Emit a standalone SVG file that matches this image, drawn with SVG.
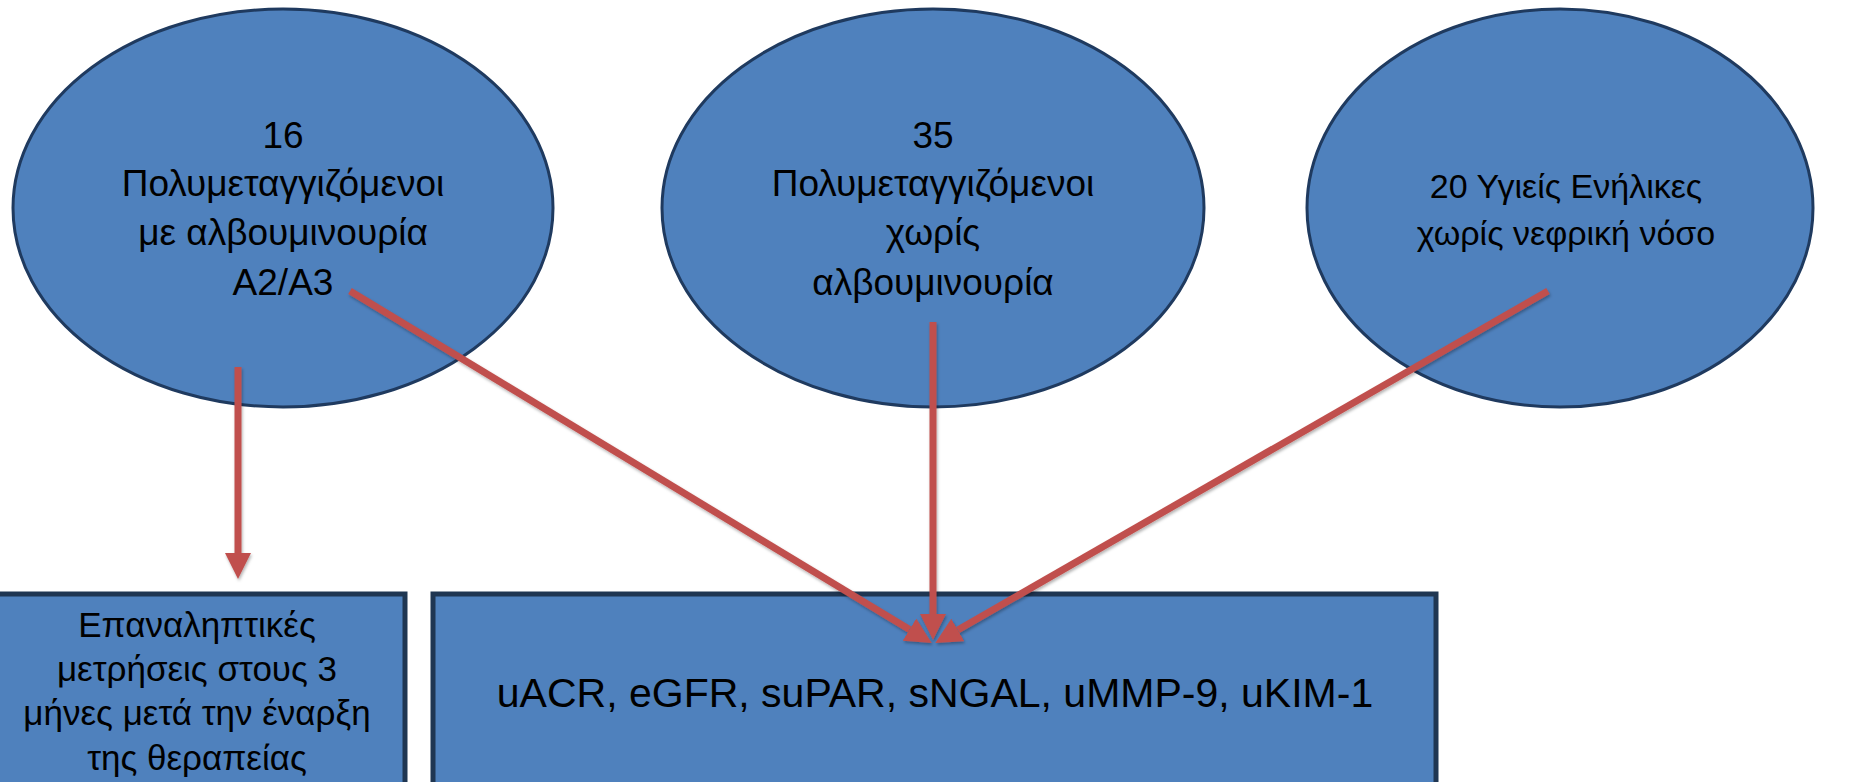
<svg xmlns="http://www.w3.org/2000/svg" width="1853" height="782" viewBox="0 0 1853 782">
<style>
.node{fill:#4F81BD;stroke:#1F3A5F;stroke-width:3}
.box{fill:#4F81BD;stroke:#1F3652;stroke-width:5}
.t{font-family:"Liberation Sans",Arial,sans-serif;font-size:37px;fill:#000;text-anchor:middle}
.t3{font-family:"Liberation Sans",Arial,sans-serif;font-size:34px;fill:#000;text-anchor:middle}
.tb{font-family:"Liberation Sans",Arial,sans-serif;font-size:35px;fill:#000;text-anchor:middle}
.tm{font-family:"Liberation Sans",Arial,sans-serif;font-size:41px;fill:#000;text-anchor:middle}
.c{stroke:#C0504D;stroke-width:7;fill:none}
</style>
<defs>
<marker id="ah" markerUnits="userSpaceOnUse" markerWidth="26" markerHeight="26" viewBox="0 0 24 24" refX="0" refY="12" orient="auto">
<path d="M0,0 L24,12 L0,24 z" fill="#C0504D"/>
</marker>
<filter id="sh" x="-10%" y="-10%" width="130%" height="130%">
<feDropShadow dx="1" dy="2" stdDeviation="1.5" flood-color="#000" flood-opacity="0.3"/>
</filter>
</defs>
<rect width="1853" height="782" fill="#fff"/>
<g id="n1">
<ellipse class="node" cx="283" cy="208" rx="270" ry="199"/>
<text class="t" x="283" y="148">16</text>
<text class="t" x="283" y="196">Πολυμεταγγιζόμενοι</text>
<text class="t" x="283" y="245">με αλβουμινουρία</text>
<text class="t" x="283" y="295">A2/A3</text>
</g>
<g id="n2">
<ellipse class="node" cx="933" cy="208" rx="271" ry="199"/>
<text class="t" x="933" y="148">35</text>
<text class="t" x="933" y="196">Πολυμεταγγιζόμενοι</text>
<text class="t" x="933" y="245">χωρίς</text>
<text class="t" x="933" y="295">αλβουμινουρία</text>
</g>
<g id="n3">
<ellipse class="node" cx="1560" cy="208" rx="253" ry="199"/>
<text class="t3" x="1566" y="198">20 Υγιείς Ενήλικες</text>
<text class="t3" x="1566" y="245">χωρίς νεφρική νόσο</text>
</g>
<g id="b1">
<rect class="box" x="-12" y="594" width="417" height="220"/>
<text class="tb" x="197" y="637">Επαναληπτικές</text>
<text class="tb" x="197" y="681">μετρήσεις στους 3</text>
<text class="tb" x="197" y="725">μήνες μετά την έναρξη</text>
<text class="tb" x="197" y="770">της θεραπείας</text>
</g>
<g id="b2">
<rect class="box" x="433" y="594" width="1003" height="220"/>
<text class="tm" x="935" y="707">uACR, eGFR, suPAR, sNGAL, uMMP-9, uKIM-1</text>
</g>
<g id="connectors" filter="url(#sh)">
<line class="c" x1="238" y1="367" x2="238" y2="553" marker-end="url(#ah)"/>
<line class="c" x1="350" y1="291" x2="909.5" y2="629.6" marker-end="url(#ah)"/>
<line class="c" x1="933" y1="322" x2="933" y2="614" marker-end="url(#ah)"/>
<line class="c" x1="1548" y1="291" x2="957.8" y2="630" marker-end="url(#ah)"/>
</g>
</svg>
